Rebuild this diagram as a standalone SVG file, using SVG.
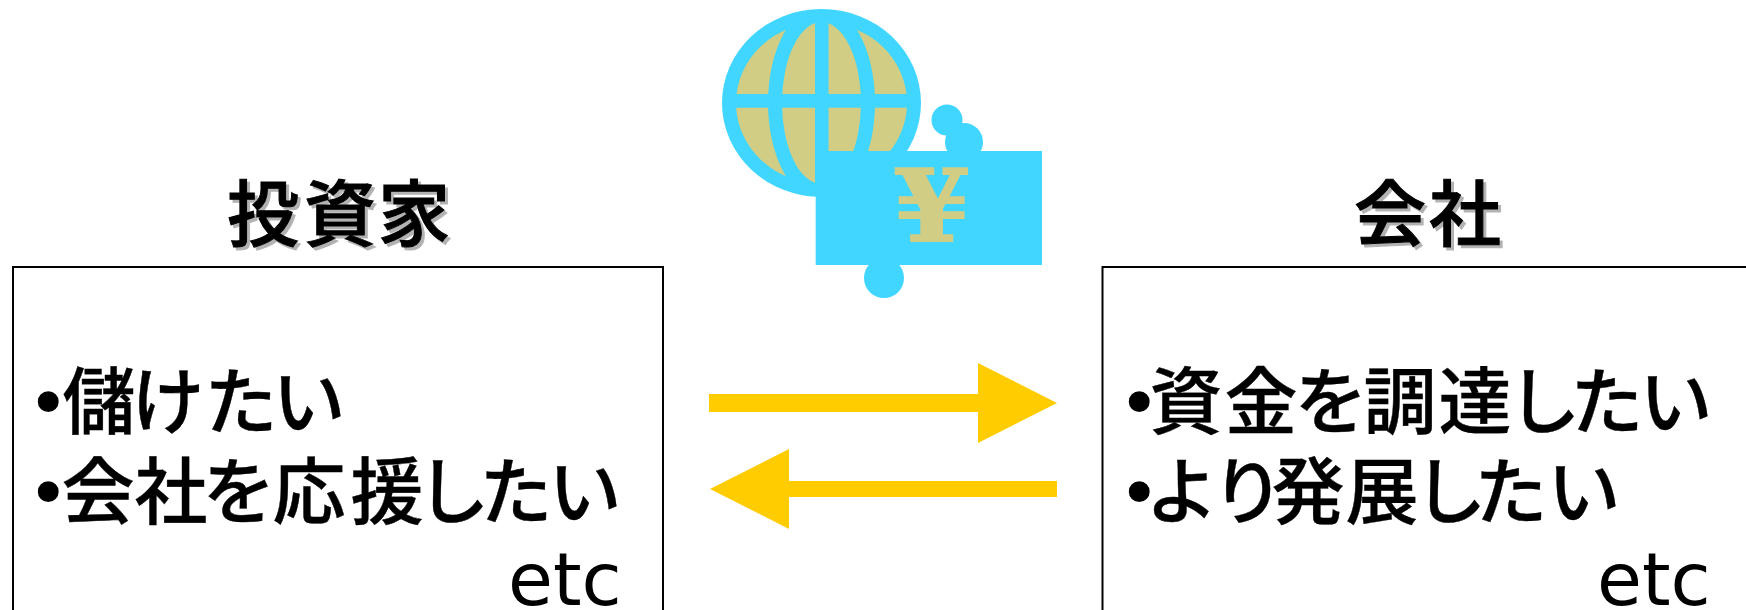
<svg xmlns="http://www.w3.org/2000/svg" width="1746" height="610" viewBox="0 0 1746 610">
<style>
.jp{font-family:"Noto Sans CJK JP",sans-serif;font-size:73px;font-weight:500;fill:#000;stroke:#000;stroke-width:.4;text-anchor:middle}
.bul{font-family:"DejaVu Sans",sans-serif;font-size:72px;fill:#000;stroke:none;text-anchor:start}
.title{font-family:"Noto Sans CJK JP",sans-serif;font-size:72px;font-weight:500;fill:#000;stroke:#000;stroke-width:1;text-anchor:middle;filter:drop-shadow(3px 3px 0 #b2b2b2)}
.lat{font-family:"DejaVu Sans",sans-serif;font-size:73px;fill:#000}
.box{fill:#fff;stroke:#000;stroke-width:2}
.blue{fill:#40d6ff}
.tan{fill:#d2cd84}
.yen{fill:#d2cd84;stroke:#d2cd84;stroke-width:2;font-family:"DejaVu Serif",serif;font-weight:700;font-size:100px;text-anchor:middle}
.arrow{stroke:#ffcc00;fill:none}
</style>
<defs>
<marker id="head" markerUnits="userSpaceOnUse" viewBox="0 0 79 80" refX="0" refY="40" markerWidth="79" markerHeight="80" orient="auto"><polygon points="0,0 79,40 0,80" fill="#ffcc00"/></marker>
<clipPath id="globeClip"><ellipse cx="821.5" cy="103" rx="92" ry="87"/></clipPath>
</defs>
<rect width="1746" height="610" fill="#fff"/>
<g id="icon">
<ellipse class="blue" cx="821.5" cy="103" rx="99.5" ry="94"/>
<ellipse class="tan" cx="821.5" cy="103" rx="85.5" ry="80.5"/>
<g clip-path="url(#globeClip)">
<path class="blue" fill-rule="evenodd" d="M768 103a53.5 98 0 1 0 107 0a53.5 98 0 1 0 -107 0zM782 103a39.5 81 0 1 0 79 0a39.5 81 0 1 0 -79 0z"/>
<rect class="blue" x="815" y="9" width="13.5" height="188"/>
<rect class="blue" x="722" y="94" width="199" height="13.7"/>
</g>
<circle class="blue" cx="947" cy="120" r="15.5"/>
<circle class="blue" cx="964" cy="142" r="19"/>
<circle class="blue" cx="884" cy="278" r="20"/>
<rect class="blue" x="815.7" y="151" width="226.3" height="114"/>
<text class="yen" transform="translate(932 241) scale(1.1 1)" x="0" y="0">¥</text>
</g>
<g id="investor">
<text class="title" x="263 340 414" y="240">投資家</text>
<rect class="box" x="13" y="267" width="650" height="360"/>
<text class="jp" y="428"><tspan class="bul" x="27">•</tspan><tspan x="99 168 241 309">儲けたい</tspan></text>
<text class="jp" y="518"><tspan class="bul" x="27">•</tspan><tspan x="98 171 239 309 387 453 516 585">会社を応援したい</tspan></text>
<text class="lat" x="508" y="605">etc</text>
</g>
<g id="company">
<text class="title" x="1390 1465" y="240">会社</text>
<rect class="box" x="1102.5" y="267" width="660" height="360"/>
<text class="jp" y="428"><tspan class="bul" x="1118">•</tspan><tspan x="1186 1261 1331 1400 1475 1544 1607 1676">資金を調達したい</tspan></text>
<text class="jp" y="518"><tspan class="bul" x="1118">•</tspan><tspan x="1182 1248 1308 1382 1450 1511 1584">より発展したい</tspan></text>
<text class="lat" x="1597" y="605">etc</text>
</g>
<g id="connectors">
<line class="arrow" stroke-width="18" x1="709" y1="403" x2="978" y2="403" marker-end="url(#head)"/>
<line class="arrow" stroke-width="16" x1="1057" y1="489" x2="789" y2="489" marker-end="url(#head)"/>
</g>
</svg>
